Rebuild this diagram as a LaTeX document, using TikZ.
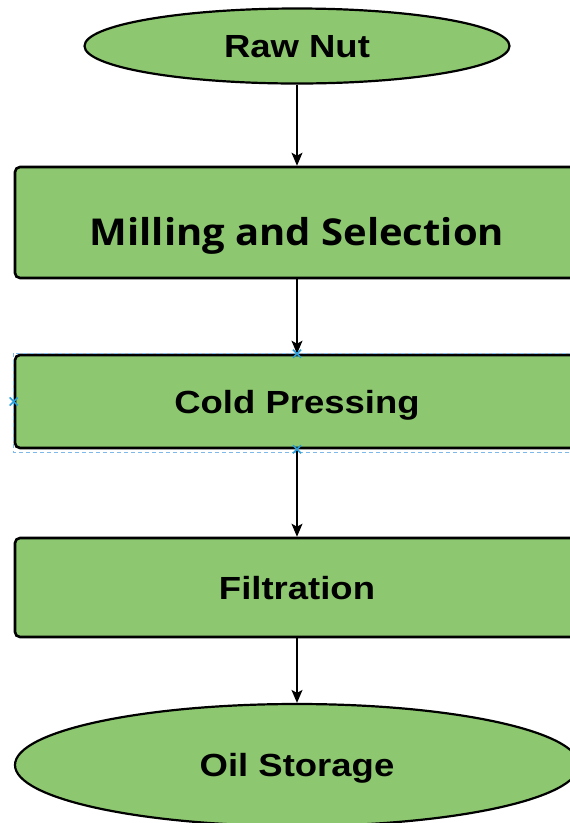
\documentclass[tikz,border=0pt]{standalone}
\usepackage{fontspec}
\setmainfont{Liberation Sans}
\newfontfamily\millfont{Open Sans}
\usetikzlibrary{arrows.meta,shapes.geometric}
\definecolor{nutgreen}{RGB}{141,199,111}
\definecolor{selblue}{RGB}{125,185,235}
\definecolor{markblue}{RGB}{40,160,220}
\tikzset{
  x=1pt, y=-1pt,
  proc/.style={draw=black, line width=2.6pt, fill=nutgreen, rounded corners=5pt,
    inner sep=0pt, text height=23pt, text depth=0pt,
    font=\fontsize{32}{32}\selectfont\bfseries},
  term/.style={ellipse, draw=black, line width=2.2pt, fill=nutgreen,
    inner sep=0pt, text height=23pt, text depth=0pt,
    font=\fontsize{32}{32}\selectfont\bfseries},
  flow/.style={-{Stealth[length=13pt,width=11pt,inset=3pt]}, line width=1.3pt, black},
  selbox/.style={draw=selblue, line width=0.9pt, dash pattern=on 4pt off 3pt},
  xmark/.style={draw=markblue, line width=1.5pt},
}
\begin{document}
\begin{tikzpicture}
\useasboundingbox (0,0) rectangle (570,823);
\clip (0,0) rectangle (570,823);
\node[term, minimum width=425pt, minimum height=75pt] (raw) at (297,46) {\scalebox{1.14}[1]{Raw Nut}};
\node[proc, minimum width=564pt, minimum height=111pt, text height=45pt] (mill) at (297,222.5) {\scalebox{1.08}[1]{\millfont\fontsize{37}{37}\selectfont\bfseries Milling and Selection}};
\node[proc, minimum width=564pt, minimum height=93pt] (cold) at (297,401.5) {\scalebox{1.14}[1]{Cold Pressing}};
\node[proc, minimum width=564pt, minimum height=99pt] (filt) at (297,587.5) {\scalebox{1.14}[1]{Filtration}};
\node[term, minimum width=564pt, minimum height=122pt] (oil) at (297,765) {\scalebox{1.14}[1]{Oil Storage}};
\draw[flow] (raw.south) -- (mill.north);
\draw[flow] (mill.south) -- (cold.north);
\draw[flow] (cold.south) -- (filt.north);
\draw[flow] (filt.south) -- (oil.north);
% selection overlay
\coordinate (s1) at (13,353);
\coordinate (s2) at (600,452);
\draw[selbox] (s1) rectangle (s2);
\foreach \p in {cold.north, cold.west, cold.south}{
  \draw[xmark] ([shift={(-4,-4)}]\p) -- ([shift={(4,4)}]\p);
  \draw[xmark] ([shift={(-4,4)}]\p) -- ([shift={(4,-4)}]\p);
}
\end{tikzpicture}
\end{document}
